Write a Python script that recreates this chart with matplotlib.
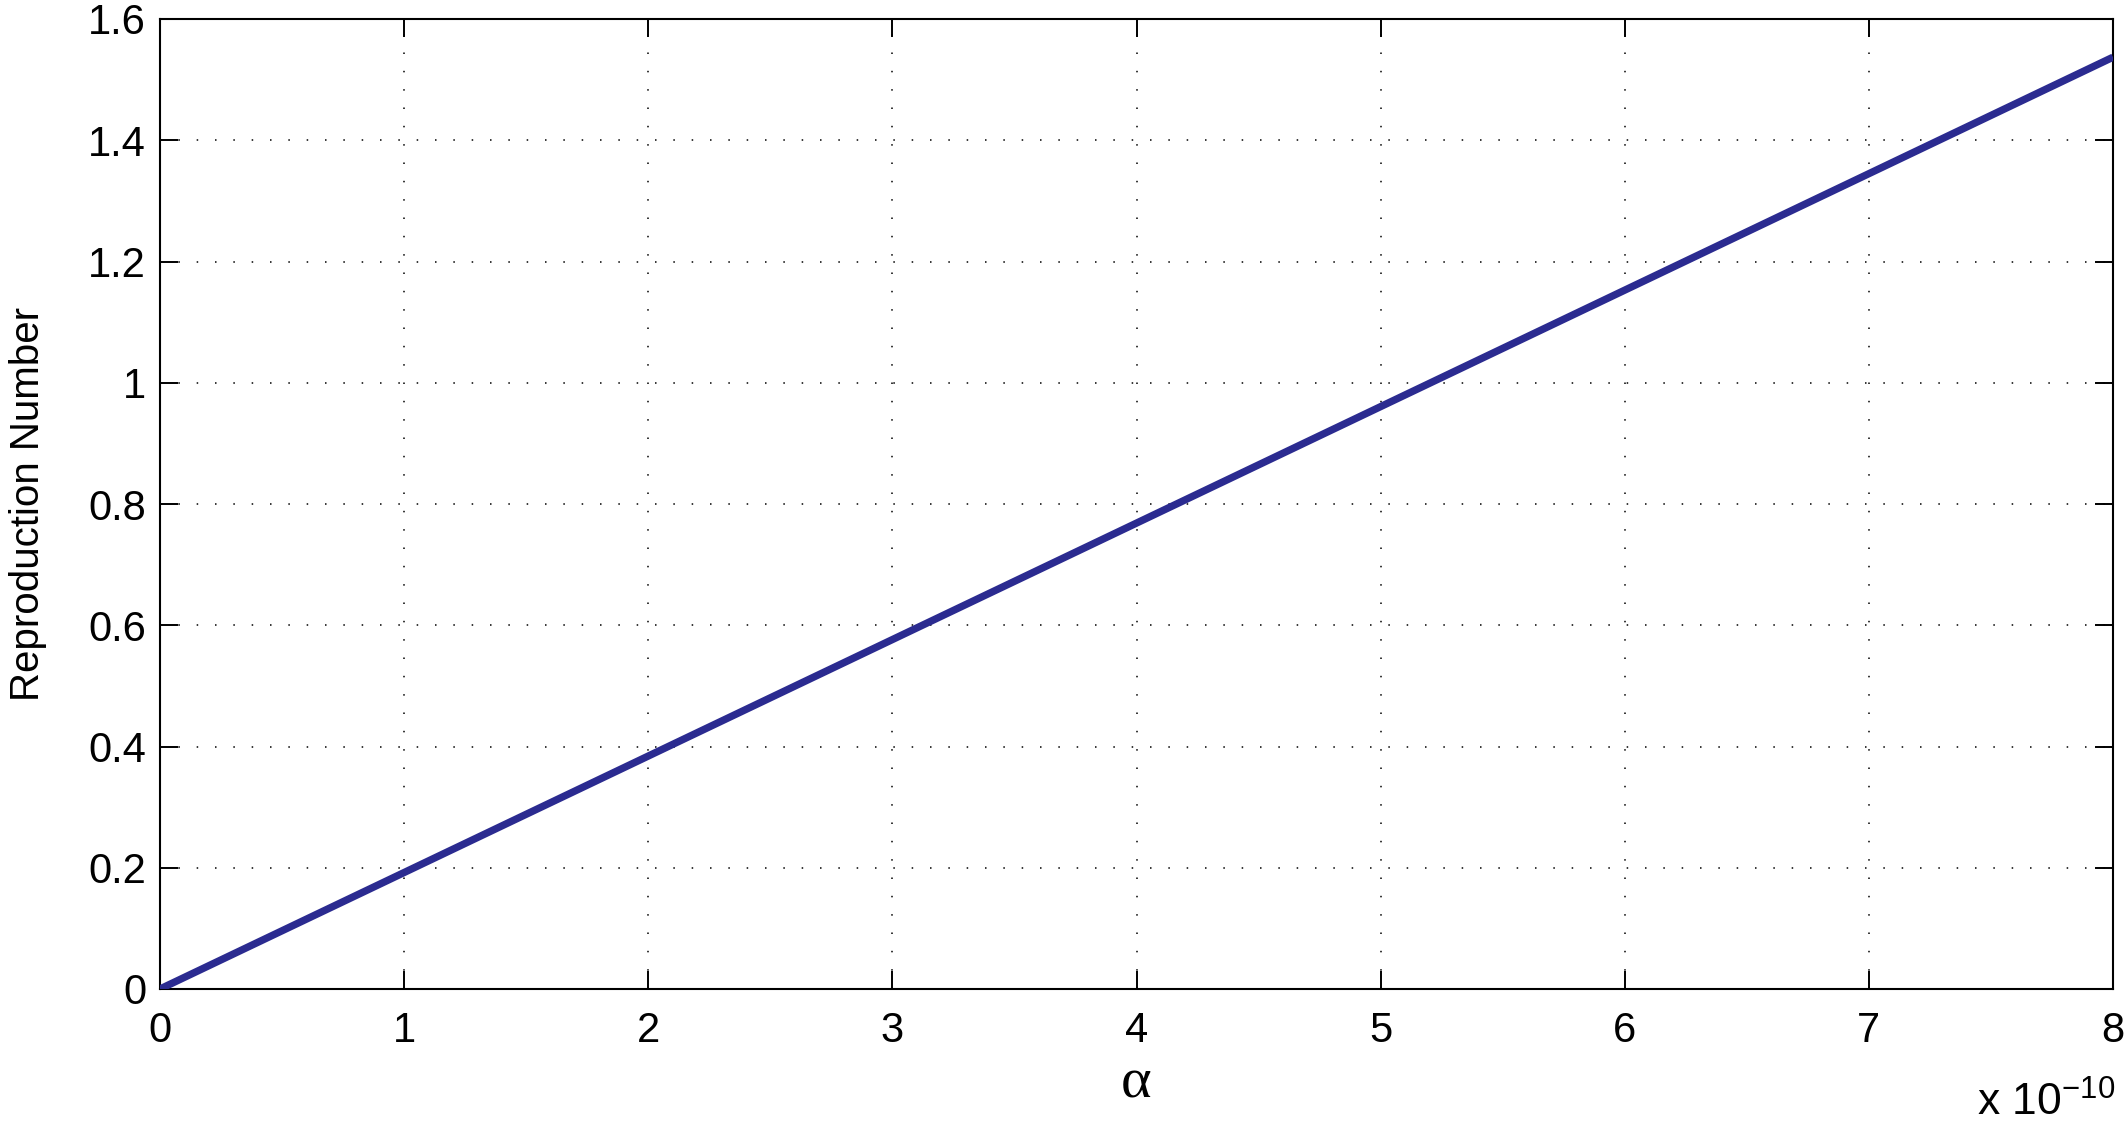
import matplotlib
matplotlib.use("Agg")
import matplotlib.pyplot as plt
import numpy as np

# data (x in units of 1e-10)
alpha = np.array([0.0, 8.0])
repro = np.array([0.0, 1.537])

x_ticks = [0, 1, 2, 3, 4, 5, 6, 7, 8]
y_ticks = [0, 0.2, 0.4, 0.6, 0.8, 1.0, 1.2, 1.4, 1.6]
y_tick_labels = ["0", "0.2", "0.4", "0.6", "0.8", "1", "1.2", "1.4", "1.6"]

plt.rcParams["font.family"] = ["Liberation Sans", "DejaVu Sans"]

W, H = 2128, 1121
fig = plt.figure(figsize=(W / 100, H / 100), dpi=100)
ax = fig.add_axes([160 / W, 1 - 989 / H, (2113 - 160) / W, (989 - 19) / H])

ax.plot(alpha, repro, color="#2b2b90", linewidth=5.3, solid_capstyle="butt", zorder=3)

ax.set_xlim(0, 8)
ax.set_ylim(0, 1.6)
ax.set_xticks(x_ticks)
ax.set_yticks(y_ticks)
ax.set_yticklabels(y_tick_labels)

ax.grid(True, color="black", linestyle=(0, (1, 11)), linewidth=1.1)
ax.tick_params(direction="in", length=13, width=1.4, labelsize=30,
               top=True, right=True)
ax.tick_params(axis="x", pad=16)
ax.tick_params(axis="y", pad=10)
for s in ax.spines.values():
    s.set_linewidth(1.5)

ax.set_xlabel("α", fontsize=42, family=["Liberation Serif", "DejaVu Serif"])
ax.xaxis.label.set_va("baseline")
ax.xaxis.set_label_coords(0.5, (989 - 1098) / 970)

ax.set_ylabel("Reproduction Number", fontsize=29, labelpad=30)

fig.text(1977 / W, 1 - 1116 / H, r"x 10$^{\mathregular{-10}}$", fontsize=32,
         ha="left", va="baseline")

fig.savefig("out.png", dpi=100)
